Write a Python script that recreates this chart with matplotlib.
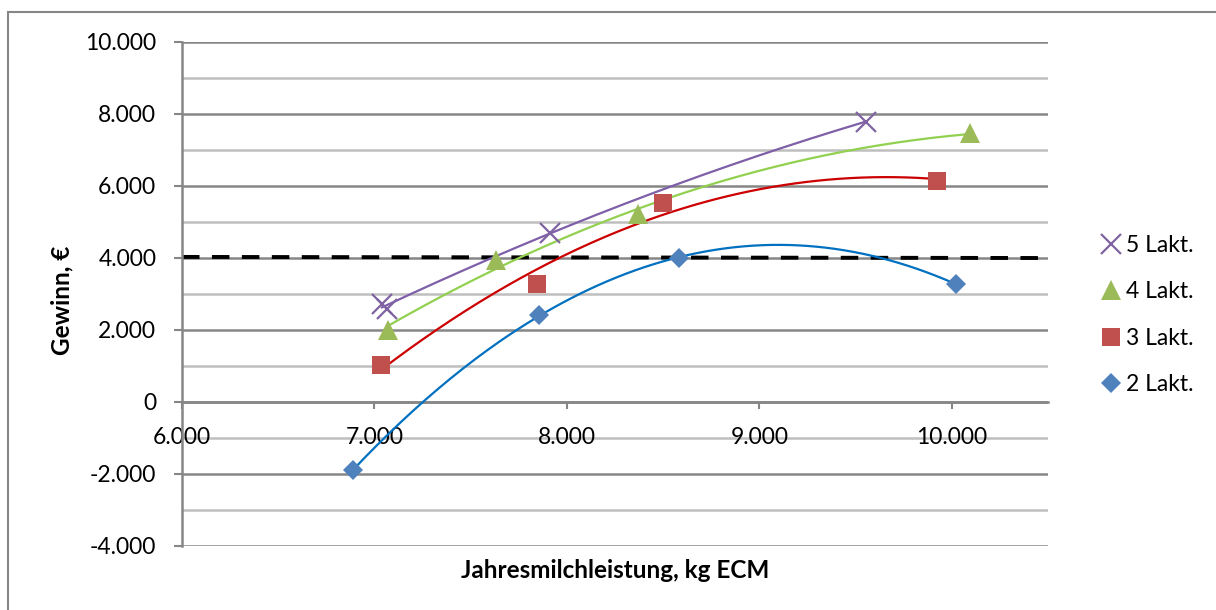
import numpy as np
import matplotlib
matplotlib.use("Agg")
from matplotlib import pyplot as plt
from matplotlib.ticker import FuncFormatter, MultipleLocator
from matplotlib.patches import Rectangle

plt.rcParams['font.family'] = ['Lato', 'DejaVu Sans']

# Jahresmilchleistung (kg ECM) und Gewinn (EUR) je Laktationsgruppe
x_2 = [6890, 7857, 8581, 10022]
y_2 = [-1889, 2430, 3990, 3278]
x_3 = [7035, 7845, 8500, 9924]
y_3 = [1028, 3275, 5535, 6139]
x_4 = [7069, 7634, 8370, 10095]
y_4 = [2000, 3944, 5220, 7464]
x_5 = [7039, 7066, 7912, 9552]
y_5 = [2735, 2583, 4686, 7786]

ref_x = [6000, 10450]
ref_y = [4030, 4000]

series = [
    ("5 Lakt.", x_5, y_5, "x", "#8064A2", "#7F5FA8", 15, 1.6),
    ("4 Lakt.", x_4, y_4, "^", "#9BBB59", "#92D050", 15, 0),
    ("3 Lakt.", x_3, y_3, "s", "#C0504D", "#CC0000", 13, 0),
    ("2 Lakt.", x_2, y_2, "D", "#4F81BD", "#0070C0", 10, 0),
]


def de_fmt(v, pos):
    s = f"{abs(v):,.0f}".replace(",", ".")
    return ("-" if v < 0 else "") + s


fig = plt.figure(figsize=(12.16, 6.10), dpi=100)
ax = fig.add_axes([182 / 1216, 1 - 546 / 610, (1048 - 182) / 1216, (546 - 42) / 610])

ax.set_xlim(6000, 10500)
ax.set_ylim(-4000, 10000)

# gridlines: major every 2000, minor every 1000
for v in range(-4000, 10001, 1000):
    major = v % 2000 == 0
    ax.axhline(v, color="#868686" if major else "#BFBFBF", lw=1.8, zorder=0)

# trendlines (2nd order polynomial) and markers
handles = []
for label, xs, ys, mk, mcol, lcol, ms, mew in series:
    coef = np.polyfit(xs, ys, 2)
    xx = np.linspace(min(xs), max(xs), 200)
    ax.plot(xx, np.polyval(coef, xx), color=lcol, lw=1.6, zorder=3)
    if mk == "x":
        h, = ax.plot(xs, ys, ls="none", marker=mk, ms=ms, mec=mcol,
                     mew=mew, zorder=4, label=label)
    else:
        h, = ax.plot(xs, ys, ls="none", marker=mk, ms=ms, mfc=mcol,
                     mec=mcol, mew=0, zorder=4, label=label)
    handles.append(h)

ax.plot(ref_x, ref_y, color="black", lw=2.8, dashes=(4.5, 3.2), zorder=2)

# axes styling
for s in ["top", "right"]:
    ax.spines[s].set_visible(False)
ax.spines["bottom"].set_position(("data", 0))
for s in ["bottom", "left"]:
    ax.spines[s].set_color("#868686")
    ax.spines[s].set_linewidth(1.8)
ax.spines["bottom"].set_zorder(1)

ax.xaxis.set_major_locator(MultipleLocator(1000))
ax.yaxis.set_major_locator(MultipleLocator(2000))
ax.xaxis.set_major_formatter(FuncFormatter(de_fmt))
ax.yaxis.set_major_formatter(FuncFormatter(de_fmt))
ax.tick_params(axis="x", direction="out", length=5, width=1.5, color="#868686",
               labelsize=16.5, pad=13)
ax.tick_params(axis="y", direction="out", length=6, width=1.5, color="#868686",
               labelsize=16.5, pad=12.5)
ax.set_xticks(range(6000, 10001, 1000))

fig.text(615 / 1216, 1 - 570 / 610, "Jahresmilchleistung, kg ECM", fontsize=17.5,
         fontweight="bold", ha="center", va="center")
fig.text(62 / 1216, 1 - 300 / 610, "Gewinn, €", fontsize=17.5, fontweight="bold",
         rotation=90, ha="center", va="center")

leg = fig.legend(handles=handles, loc="upper left",
                 bbox_to_anchor=(1092 / 1216, 1 - 226 / 610),
                 frameon=False, fontsize=16.5, handlelength=0.9,
                 handletextpad=0.2, labelspacing=1.1, borderaxespad=0)

# outer chart border (only left and top edges visible)
fig.patches.append(Rectangle((8 / 1216, -0.1), 1.2, 1 - 12 / 610 + 0.1,
                             transform=fig.transFigure, fill=False,
                             ec="#868686", lw=1.5))

fig.savefig("out.png", dpi=100)
